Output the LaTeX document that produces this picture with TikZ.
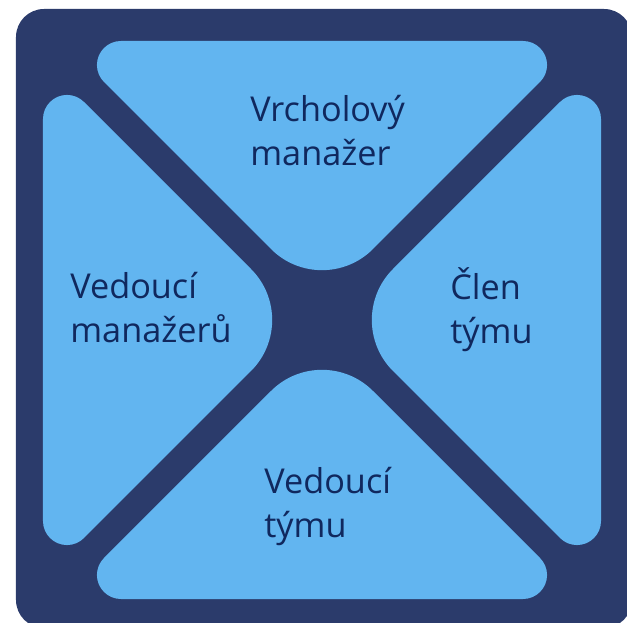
\documentclass[tikz,border=0pt]{standalone}
\usepackage{fontspec}
\setmainfont{Open Sans}
\definecolor{tmava}{RGB}{43,59,107}
\definecolor{svetla}{RGB}{98,181,240}
\definecolor{pismo}{RGB}{16,40,94}
\tikzset{popis/.style={text=pismo, font=\fontsize{19.5}{25.6}\selectfont, align=left, inner sep=0pt}}
\begin{document}
\begin{tikzpicture}[scale=0.02, line join=round, line cap=round]
% Rozměry v pixelech, střed kříže v počátku
\def\s{279}   % polovina vnitřního čtverce
\def\d{20}    % posun okraje od úhlopříčky
\def\R{72}    % zaoblení špičky
\def\r{24}    % zaoblení vnějších rohů
\def\tk{57.94} % r / tan(22.5)
\useasboundingbox (-322,-303) rectangle (305,320);
\clip (-322,-303) rectangle (305,320);
% --- Tmavé pozadí ---
\fill[tmava, rounded corners=0.56cm] (-306,-308) rectangle (310,311);
% --- Čtyři světlé trojúhelníky (otočené kolem středu) ---
\foreach \a in {0,90,180,270}
  \fill[svetla, rotate=\a] ({-\R*cos(45)},{\d+\R*sin(45)}) arc[start angle=225, end angle=315, radius=\R]
    -- ({\s-\d-\tk*cos(45)},{\s-\tk*sin(45)}) arc[start angle=-45, end angle=90, radius=\r]
    -- ({-(\s-\d-\tk)},\s) arc[start angle=90, end angle=225, radius=\r] -- cycle;
% --- Popisky (base = účaří druhého řádku) ---
\node[popis, anchor=base west] (vrchol) at (-72,154) {Vrcholový\\manažer};
\node[popis, anchor=base west] (vedmgr) at (-252,-23) {Vedoucí\\manažerů};
\node[popis, anchor=base west] (clen) at (128,-24) {Člen\\týmu};
\node[popis, anchor=base west] (vedtym) at (-58,-218) {Vedoucí\\týmu};
\end{tikzpicture}
\end{document}
